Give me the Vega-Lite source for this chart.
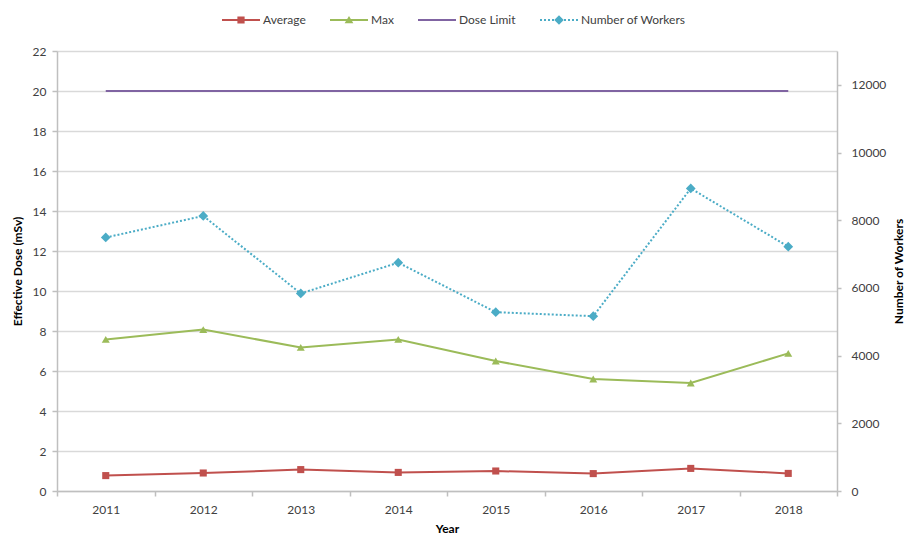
{
  "$schema": "https://vega.github.io/schema/vega-lite/v6.json",
  "width": 780,
  "height": 440,
  "autosize": {"type": "none"},
  "padding": {"left": 57, "top": 51, "right": 69, "bottom": 48},
  "background": "white",
  "config": {
    "view": {"stroke": null},
    "font": "Lato",
    "axis": {
      "labelFont": "Lato",
      "labelFontSize": 12,
      "labelColor": "#404040",
      "titleFont": "Lato",
      "titleFontSize": 12,
      "titleFontWeight": "bold",
      "titleColor": "#000000",
      "domainColor": "#bfbfbf",
      "domainWidth": 1.5,
      "tickColor": "#bfbfbf",
      "tickWidth": 1.5,
      "gridColor": "#d9d9d9",
      "gridWidth": 1.5
    }
  },
  "data": {
    "values": [
      {"year": "2011", "series": "Average", "value": 0.77},
      {"year": "2012", "series": "Average", "value": 0.90},
      {"year": "2013", "series": "Average", "value": 1.07},
      {"year": "2014", "series": "Average", "value": 0.93},
      {"year": "2015", "series": "Average", "value": 1.00},
      {"year": "2016", "series": "Average", "value": 0.87},
      {"year": "2017", "series": "Average", "value": 1.13},
      {"year": "2018", "series": "Average", "value": 0.88},
      {"year": "2011", "series": "Max", "value": 7.58},
      {"year": "2012", "series": "Max", "value": 8.07},
      {"year": "2013", "series": "Max", "value": 7.18},
      {"year": "2014", "series": "Max", "value": 7.58},
      {"year": "2015", "series": "Max", "value": 6.5},
      {"year": "2016", "series": "Max", "value": 5.6},
      {"year": "2017", "series": "Max", "value": 5.4},
      {"year": "2018", "series": "Max", "value": 6.88},
      {"year": "2011", "series": "Dose Limit", "value": 20},
      {"year": "2012", "series": "Dose Limit", "value": 20},
      {"year": "2013", "series": "Dose Limit", "value": 20},
      {"year": "2014", "series": "Dose Limit", "value": 20},
      {"year": "2015", "series": "Dose Limit", "value": 20},
      {"year": "2016", "series": "Dose Limit", "value": 20},
      {"year": "2017", "series": "Dose Limit", "value": 20},
      {"year": "2018", "series": "Dose Limit", "value": 20},
      {"year": "2011", "series": "Number of Workers", "value": 7490},
      {"year": "2012", "series": "Number of Workers", "value": 8127},
      {"year": "2013", "series": "Number of Workers", "value": 5837},
      {"year": "2014", "series": "Number of Workers", "value": 6746},
      {"year": "2015", "series": "Number of Workers", "value": 5284},
      {"year": "2016", "series": "Number of Workers", "value": 5165},
      {"year": "2017", "series": "Number of Workers", "value": 8939},
      {"year": "2018", "series": "Number of Workers", "value": 7220}
    ]
  },
  "encoding": {
    "x": {
      "field": "year",
      "type": "ordinal",
      "scale": {"type": "band", "paddingInner": 0, "paddingOuter": 0},
      "axis": {
        "title": "Year",
        "labelAngle": 0,
        "tickBand": "extent",
        "tickSize": 5,
        "labelPadding": 8,
        "titlePadding": 8,
        "grid": false
      }
    }
  },
  "layer": [
    {
      "encoding": {
        "y": {
          "field": "value",
          "type": "quantitative",
          "scale": {"domain": [0, 22], "nice": false},
          "axis": {
            "title": "Effective Dose (mSv)",
            "orient": "left",
            "values": [0, 2, 4, 6, 8, 10, 12, 14, 16, 18, 20, 22],
            "grid": true,
            "tickSize": 5,
            "labelPadding": 6,
            "titlePadding": 8
          }
        }
      },
      "layer": [
        {
          "transform": [{"filter": "datum.series == 'Dose Limit'"}],
          "mark": {"type": "line", "color": "#8064A2", "strokeWidth": 2}
        },
        {
          "transform": [{"filter": "datum.series == 'Max'"}],
          "mark": {"type": "line", "color": "#9BBB59", "strokeWidth": 2}
        },
        {
          "transform": [{"filter": "datum.series == 'Max'"}],
          "mark": {"type": "point", "shape": "triangle-up", "filled": true, "opacity": 1, "color": "#9BBB59", "size": 64}
        },
        {
          "transform": [{"filter": "datum.series == 'Average'"}],
          "mark": {"type": "line", "color": "#C0504D", "strokeWidth": 2}
        },
        {
          "transform": [{"filter": "datum.series == 'Average'"}],
          "mark": {"type": "point", "shape": "square", "filled": true, "opacity": 1, "color": "#C0504D", "size": 50}
        }
      ]
    },
    {
      "transform": [{"filter": "datum.series == 'Number of Workers'"}],
      "encoding": {
        "y": {
          "field": "value",
          "type": "quantitative",
          "scale": {"domain": [0, 13000], "nice": false},
          "axis": {
            "title": "Number of Workers",
            "orient": "right",
            "format": "d",
            "values": [0, 2000, 4000, 6000, 8000, 10000, 12000],
            "grid": false,
            "tickSize": 4,
            "labelPadding": 10,
            "titlePadding": 20,
            "titleAngle": -90
          }
        }
      },
      "layer": [
        {
          "mark": {"type": "line", "color": "#4BACC6", "strokeWidth": 2, "strokeDash": [2, 2]}
        },
        {
          "mark": {"type": "point", "shape": "diamond", "filled": true, "opacity": 1, "color": "#4BACC6", "size": 95}
        }
      ]
    },
    {
      "transform": [{"filter": "false"}],
      "mark": {"type": "point", "filled": true},
      "encoding": {
        "color": {
          "field": "series",
          "type": "nominal",
          "scale": {
            "domain": ["Average", "Max", "Dose Limit", "Number of Workers"],
            "range": ["#C0504D", "#9BBB59", "#8064A2", "#4BACC6"]
          },
          "legend": {
            "title": null,
            "orient": "none",
            "legendX": 165,
            "legendY": -50,
            "direction": "horizontal",
            "padding": 0,
            "symbolSize": 1444,
            "symbolStrokeWidth": 0,
            "symbolOpacity": 1,
            "labelFont": "Lato",
            "labelFontSize": 12,
            "labelColor": "#404040",
            "labelOffset": 3,
            "columnPadding": 24
          }
        },
        "shape": {
          "field": "series",
          "type": "nominal",
          "scale": {
            "domain": ["Average", "Max", "Dose Limit", "Number of Workers"],
            "range": [
              "M-1,-0.055H1V0.055H-1Z M-0.19,-0.19H0.19V0.19H-0.19Z",
              "M-1,-0.055H1V0.055H-1Z M0,-0.21L0.23,0.17H-0.23Z",
              "M-1,-0.055H1V0.055H-1Z",
              "M-1,-0.05H-0.895V0.05H-1Z M-0.79,-0.05H-0.684V0.05H-0.79Z M-0.58,-0.05H-0.474V0.05H-0.58Z M-0.368,-0.05H-0.263V0.05H-0.368Z M0,-0.25L0.25,0L0,0.25L-0.25,0Z M0.263,-0.05H0.368V0.05H0.263Z M0.474,-0.05H0.58V0.05H0.474Z M0.684,-0.05H0.79V0.05H0.684Z M0.895,-0.05H1V0.05H0.895Z"
            ]
          },
          "legend": {
            "title": null,
            "orient": "none",
            "legendX": 165,
            "legendY": -50,
            "direction": "horizontal",
            "padding": 0,
            "symbolSize": 1444,
            "symbolStrokeWidth": 0,
            "symbolOpacity": 1,
            "labelFont": "Lato",
            "labelFontSize": 12,
            "labelColor": "#404040",
            "labelOffset": 3,
            "columnPadding": 24
          }
        }
      }
    }
  ],
  "resolve": {"scale": {"y": "independent"}}
}
